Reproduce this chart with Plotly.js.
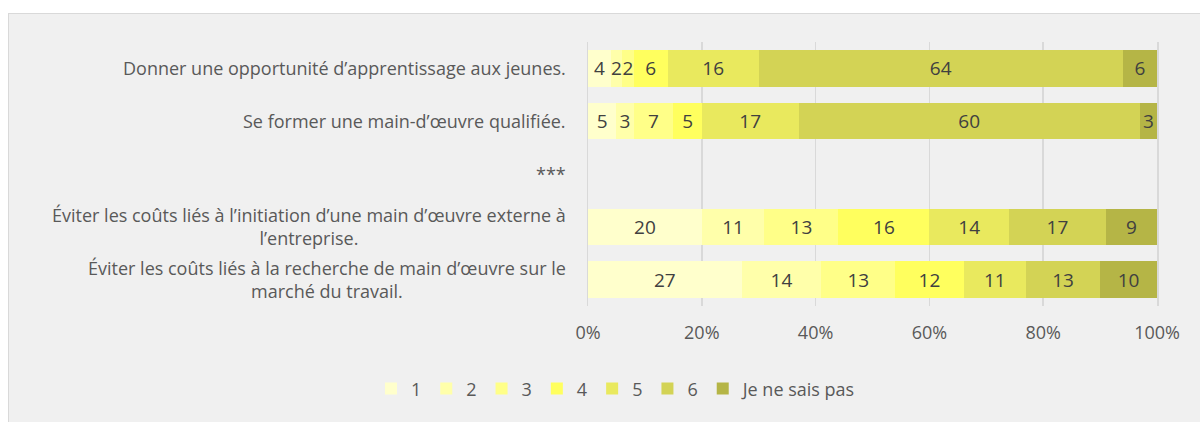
<!DOCTYPE html>
<html>
<head>
<meta charset="utf-8">
<script src="https://cdn.plot.ly/plotly-3.0.1.min.js"></script>
<style>
  html, body { margin: 0; padding: 0; background: #ffffff; }
  #frame { position: absolute; left: 8px; top: 13px; width: 1200px; height: 420px;
           background: #f0f0f0; border: 1px solid #d9d9d9; box-sizing: border-box; }
  #chart { position: absolute; left: 0; top: 0; width: 1200px; height: 422px; }
</style>
</head>
<body>
<div id="frame"></div>
<div id="chart"></div>
<script>
const categories = [
  "Donner une opportunité d’apprentissage aux jeunes.",
  "Se former une main-d’œuvre qualifiée.",
  "***",
  "Éviter les coûts liés à l’initiation d’une main d’œuvre externe à<br>l’entreprise.",
  "Éviter les coûts liés à la recherche de main d’œuvre sur le<br>marché du travail."
];
const seriesNames = ["1", "2", "3", "4", "5", "6", "Je ne sais pas"];
const s1 = [4, 5, null, 20, 27];
const s2 = [2, 3, null, 11, 14];
const s3 = [2, 7, null, 13, 13];
const s4 = [6, 5, null, 16, 12];
const s5 = [16, 17, null, 14, 11];
const s6 = [64, 60, null, 17, 13];
const sNSP = [6, 3, null, 9, 10];
const tickVals = [0, 20, 40, 60, 80, 100];
const tickLabels = ["0%", "20%", "40%", "60%", "80%", "100%"];

const seriesValues = [s1, s2, s3, s4, s5, s6, sNSP];
const colors = ["#FFFFCC", "#FFFFAA", "#FFFF88", "#FFFF5E", "#E9E95E", "#D3D355", "#B5B546"];
const font = "'Open Sans', 'Noto Sans', sans-serif";
const textCol = "#404040";
const labelCol = "#595959";

const traces = seriesValues.map((vals, i) => ({
  type: "bar",
  orientation: "h",
  name: seriesNames[i],
  y: categories,
  x: vals,
  text: vals.map(v => v == null ? "" : String(v)),
  textposition: "inside",
  insidetextanchor: "middle",
  textangle: 0,
  textfont: { family: font, size: 19, color: textCol },
  marker: { color: colors[i], line: { width: 0 } },
  hoverinfo: "none"
}));

const annotations = categories.map(c => ({
  xref: "paper", yref: "y", x: 0, y: c, xanchor: "right", yanchor: "middle",
  xshift: -20, text: c, showarrow: false, align: "center",
  font: { family: font, size: 18, color: labelCol }
}));

const layout = {
  width: 1200, height: 422,
  margin: { l: 588, r: 43, t: 42, b: 116 },
  paper_bgcolor: "rgba(0,0,0,0)",
  plot_bgcolor: "rgba(0,0,0,0)",
  barmode: "stack",
  bargap: 0.31,
  uniformtext: { mode: "show", minsize: 19 },
  showlegend: true,
  legend: {
    orientation: "h", x: 0.05, xanchor: "center", y: -0.314, yanchor: "middle",
    font: { family: font, size: 18, color: labelCol }, traceorder: "normal",
    itemwidth: 30
  },
  xaxis: {
    range: [0, 100], tickmode: "array", tickvals: tickVals, ticktext: tickLabels,
    showgrid: true, gridcolor: "#d9d9d9", gridwidth: 1.5, zeroline: false,
    showline: false, ticks: "", ticklabelstandoff: 14,
    tickfont: { family: font, size: 18, color: labelCol }
  },
  yaxis: {
    type: "category", categoryorder: "array", categoryarray: categories,
    autorange: "reversed", showticklabels: false, showgrid: false,
    zeroline: false, ticks: "",
    showline: true, mirror: true, linecolor: "#d9d9d9", linewidth: 1.5
  },
  annotations: annotations
};

Plotly.newPlot("chart", traces, layout, { displayModeBar: false, staticPlot: true });
</script>
</body>
</html>
